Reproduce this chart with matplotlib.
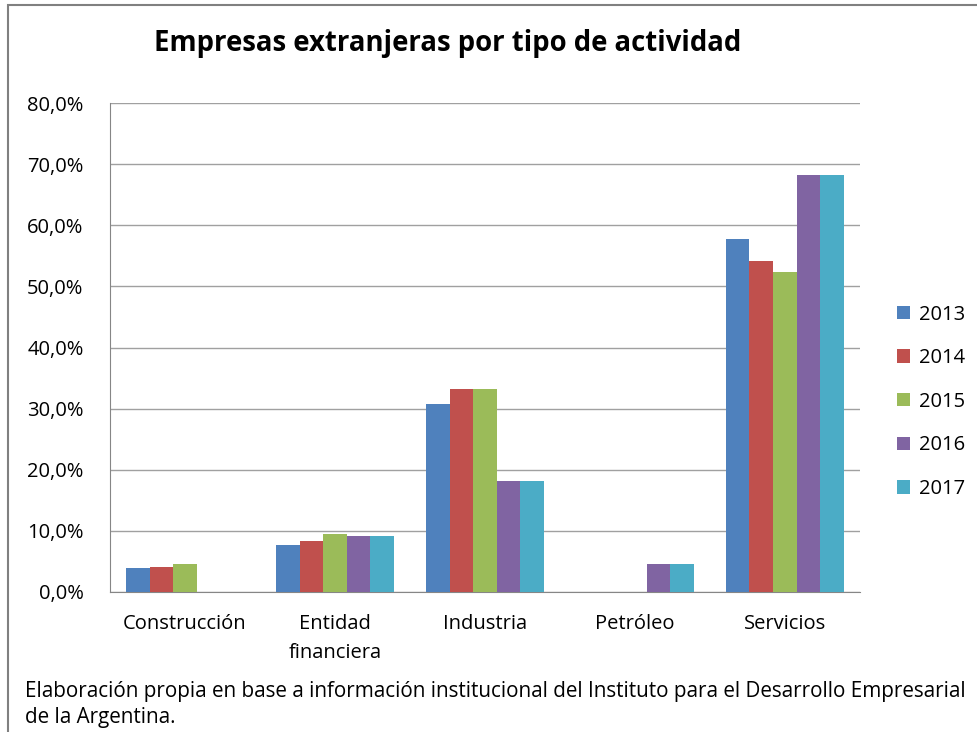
import matplotlib
matplotlib.use("Agg")
import matplotlib.pyplot as plt
import numpy as np
from matplotlib.patches import Rectangle
from matplotlib.ticker import FuncFormatter

categories = ["Construcción", "Entidad\nfinanciera", "Industria", "Petróleo", "Servicios"]
years = ["2013", "2014", "2015", "2016", "2017"]
v2013 = [3.9, 7.7, 30.8, 0.0, 57.7]
v2014 = [4.1, 8.3, 33.3, 0.0, 54.2]
v2015 = [4.6, 9.5, 33.3, 0.0, 52.4]
v2016 = [0.0, 9.1, 18.2, 4.5, 68.2]
v2017 = [0.0, 9.1, 18.2, 4.5, 68.2]
series = [v2013, v2014, v2015, v2016, v2017]
colors = ["#4F81BD", "#C0504D", "#9BBB59", "#8064A2", "#4BACC6"]

plt.rcParams['font.family'] = ['Open Sans', 'DejaVu Sans']

fig = plt.figure(figsize=(9.77, 7.32), dpi=100)
ax = fig.add_axes([0.1126, 0.1913, 0.7674, 0.6677])

x = np.arange(len(categories))
w = 0.157
for i, (s, c, yr) in enumerate(zip(series, colors, years)):
    ax.bar(x + (i - 2) * w, s, width=w, color=c, label=yr, zorder=3)

ax.set_xlim(-0.5, len(categories) - 0.5)
ax.set_ylim(0, 80)
ax.set_yticks(np.arange(0, 81, 10))
ax.yaxis.set_major_formatter(FuncFormatter(lambda v, p: f"{v:.1f}%".replace(".", ",")))
ax.grid(axis='y', color='#A0A0A0', linewidth=1, zorder=0)
ax.set_xticks(x)
ax.set_xticklabels(categories, fontsize=14.5, linespacing=1.6)
ax.tick_params(axis='y', labelsize=14.5, length=0, pad=19)
ax.tick_params(axis='x', length=0, pad=16)
for sp in ['top', 'right']:
    ax.spines[sp].set_visible(False)
ax.spines['left'].set_color('#868686')
ax.spines['bottom'].set_color('#868686')

leg = ax.legend(loc='center left', bbox_to_anchor=(1.025, 0.389), frameon=False,
                fontsize=14.5, handlelength=0.65, handleheight=0.65,
                labelspacing=1.17, handletextpad=0.45)

fig.text(0.458, 0.94, "Empresas extranjeras por tipo de actividad", ha='center', va='center',
         fontsize=19.8, fontweight='bold')
fig.text(0.026, 0.038, "Elaboración propia en base a información institucional del Instituto para el Desarrollo Empresarial\nde la Argentina.",
         ha='left', va='center', fontsize=14.9, linespacing=1.3)

fig.patches.append(Rectangle((0.008, -0.1), 1.2, 1.093, transform=fig.transFigure,
                             fill=False, edgecolor='#808080', linewidth=1.5))

fig.savefig("out.png", dpi=100)
